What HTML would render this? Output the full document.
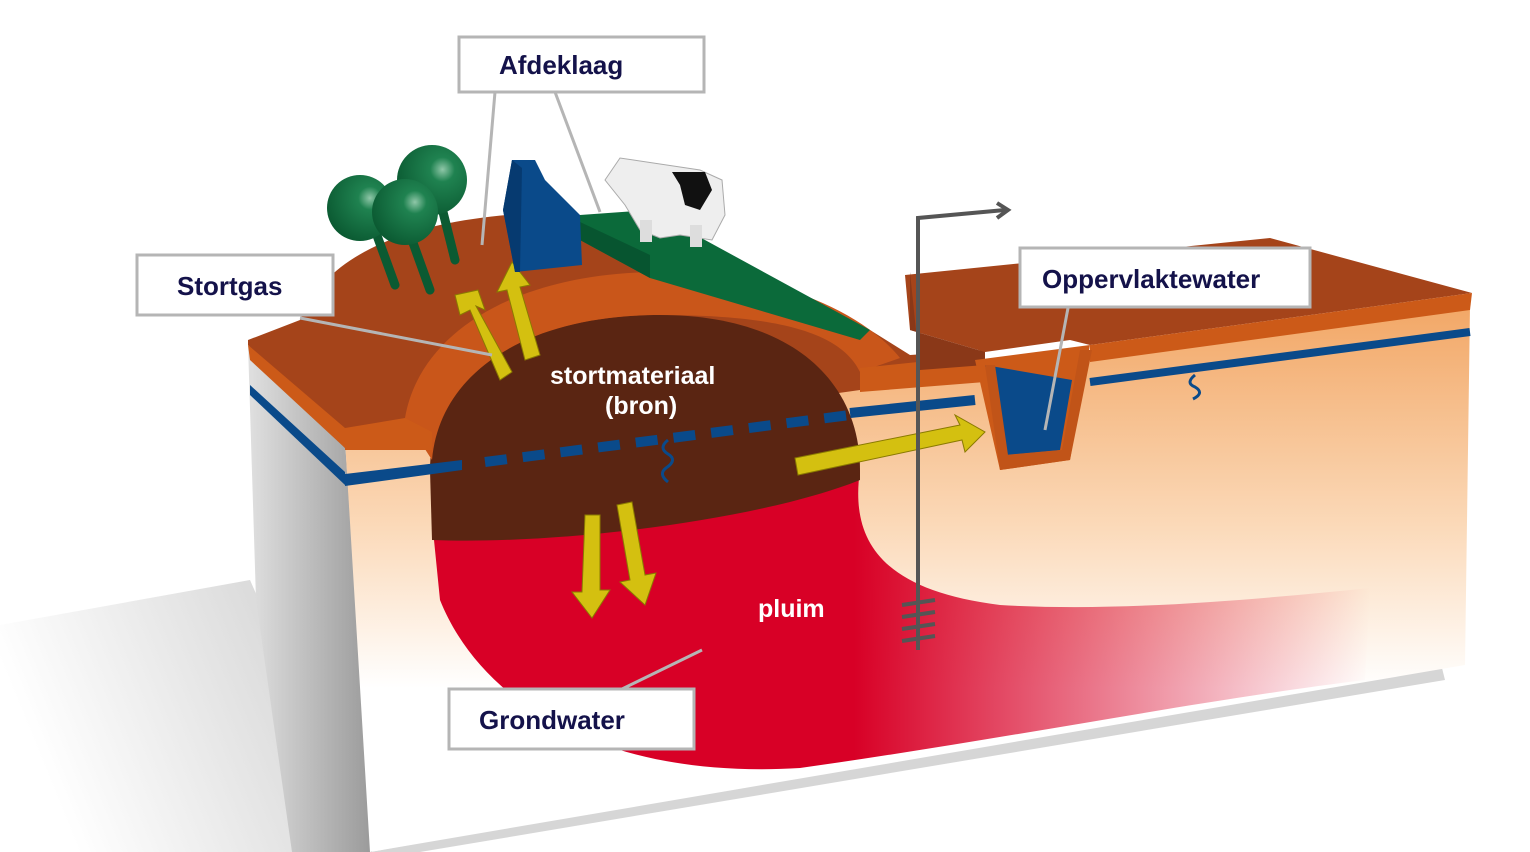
<!DOCTYPE html>
<html><head><meta charset="utf-8"><style>
html,body{margin:0;padding:0;background:#fff;width:1530px;height:852px;overflow:hidden}
svg text{font-family:"Liberation Sans",sans-serif;font-weight:bold}
</style></head><body>
<svg width="1530" height="852" viewBox="0 0 1530 852" xmlns="http://www.w3.org/2000/svg">
<defs>
<linearGradient id="front" x1="0" y1="0" x2="0" y2="1">
<stop offset="0" stop-color="#f2a766"/><stop offset="0.4" stop-color="#fbd9b8"/><stop offset="0.7" stop-color="#ffffff"/></linearGradient>
<linearGradient id="shadow" x1="1" y1="0" x2="0" y2="0.3">
<stop offset="0" stop-color="#999"/><stop offset="1" stop-color="#fff"/></linearGradient>
<linearGradient id="side" x1="0" y1="0" x2="1" y2="0">
<stop offset="0" stop-color="#e0e0e0"/><stop offset="1" stop-color="#9a9a9a"/></linearGradient>
<linearGradient id="plume" x1="0" y1="0" x2="1" y2="0">
<stop offset="0" stop-color="#d80026"/><stop offset="0.45" stop-color="#d80026"/><stop offset="1" stop-color="#d80026" stop-opacity="0"/></linearGradient>
<radialGradient id="tree" cx="0.65" cy="0.35" r="0.7"><stop offset="0" stop-color="#8fc7a8"/><stop offset="0.25" stop-color="#1f8250"/><stop offset="1" stop-color="#0b5a32"/></radialGradient>
</defs>
<polygon points="0,625 250,580 370,852 0,852" fill="url(#shadow)" opacity="0.5"/>
<polygon points="370,852 1440,660 1445,680 420,852" fill="#999" opacity="0.4"/>
<polygon points="248,345 345,440 372,852 292,852 256,600" fill="url(#side)"/>
<polygon points="345,440 430,430 985,375 1090,358 1470,306 1465,665 370,852" fill="url(#front)"/>
<path d="M432,520 L860,470 C850,540 880,590 1000,605 C1120,612 1250,600 1370,588 L1365,680 C1200,700 1000,740 800,768 C600,780 480,700 440,600 Z" fill="url(#plume)"/>
<path d="M248,340 L300,320 C330,245 430,215 560,212 L650,230 L870,330 L910,355 L985,350 L985,378 L860,390 L432,450 L345,448 L248,345 Z" fill="#a5441a"/>
<path d="M430,470 C430,370 530,315 660,315 C790,315 860,380 860,470 L860,480 C760,520 560,545 432,540 Z" fill="#5a2512"/>
<path d="M405,418 C420,330 520,272 660,272 C790,272 870,320 900,358 L860,372 C840,330 770,315 660,315 C530,315 440,370 432,460 Z" fill="#c9561a"/>
<path d="M860,368 L985,355 L985,382 L860,392 Z" fill="#cc5a18"/>
<polygon points="248,345 345,428 345,448 250,360" fill="#cc5a18"/>
<polygon points="345,428 405,418 432,432 432,450 345,450" fill="#cc5a18"/>
<polygon points="580,215 650,210 870,330 860,340 650,278 580,240" fill="#0b6a3a"/>
<polygon points="580,222 650,255 650,278 580,240" fill="#075530"/>
<polygon points="250,385 345,472 345,485 250,395" fill="#0a4a8a"/>
<polygon points="345,474 462,460 462,470 345,486" fill="#0a4a8a"/>
<line x1="485" y1="462" x2="850" y2="415" stroke="#0a4a8a" stroke-width="10" stroke-dasharray="22,16"/>
<line x1="850" y1="413" x2="975" y2="400" stroke="#0a4a8a" stroke-width="10"/>
<line x1="1090" y1="382" x2="1470" y2="332" stroke="#0a4a8a" stroke-width="8"/>
<path d="M668,440 q-10,8 0,14 q10,6 -2,14 q-8,6 2,14" stroke="#0a4a8a" stroke-width="3" fill="none"/>
<path d="M1195,375 q-10,8 0,12 q10,6 -2,12" stroke="#0a4a8a" stroke-width="3" fill="none"/>
<polygon points="905,275 1270,238 1472,293 1090,345 1070,340 985,352 910,330" fill="#a5441a"/>
<polygon points="910,272 920,370 985,365 985,352 910,330" fill="#8a3818"/>
<polygon points="1090,345 1472,293 1470,310 1090,362" fill="#cc5a18"/>
<polygon points="975,360 1090,345 1070,460 1000,470" fill="#cc5a18"/>
<polygon points="985,365 1072,380 1060,450 1005,455" fill="#0a4a8a"/>
<polygon points="985,365 1000,470 1070,460 1092,350 1080,350 1062,450 1008,455 995,365" fill="#c15418"/>
<g fill="#d4c010" stroke="#8a7a00" stroke-width="1">
<polygon points="500,380 470,310 460,315 455,295 478,290 485,310 476,306 512,372"/>
<polygon points="525,360 507,290 497,292 512,262 530,285 520,287 540,355"/>
<polygon points="795,458 960,425 955,415 985,432 965,452 962,440 798,475"/>
<polygon points="585,515 600,515 600,590 610,590 592,618 572,592 582,592"/>
<polygon points="617,505 632,502 645,575 656,573 645,605 620,582 630,580"/>
</g>
<g stroke="#0b5a32" stroke-width="9" stroke-linecap="round">
<line x1="375" y1="230" x2="395" y2="285"/><line x1="412" y1="240" x2="430" y2="290"/><line x1="440" y1="200" x2="455" y2="260"/></g>
<circle cx="360" cy="208" r="33" fill="url(#tree)"/>
<circle cx="432" cy="180" r="35" fill="url(#tree)"/>
<circle cx="405" cy="212" r="33" fill="url(#tree)"/>
<polygon points="512,160 535,160 545,180 580,215 582,265 515,272 503,210" fill="#0a4a8a"/>
<polygon points="512,160 522,168 520,272 515,272 503,210" fill="#063a70"/>
<polygon points="605,180 620,158 700,170 722,180 725,215 712,240 680,235 660,238 640,230 625,205" fill="#eee" stroke="#aaa"/>
<path d="M672,172 L705,172 L712,190 L700,210 L685,205 L680,185 Z" fill="#111"/>
<rect x="640" y="220" width="12" height="22" fill="#ddd"/><rect x="690" y="225" width="12" height="22" fill="#ddd"/>
<polyline points="918,650 918,218 1005,210" fill="none" stroke="#555" stroke-width="4"/>
<polyline points="997,203 1008,210 997,218" fill="none" stroke="#555" stroke-width="4"/>
<g stroke="#555" stroke-width="4"><line x1="902" y1="605" x2="935" y2="600"/><line x1="902" y1="617" x2="935" y2="612"/><line x1="902" y1="629" x2="935" y2="624"/><line x1="902" y1="641" x2="935" y2="636"/></g>
<g stroke="#b5b5b5" stroke-width="3">
<line x1="495" y1="92" x2="482" y2="245"/><line x1="555" y1="92" x2="600" y2="212"/>
<line x1="300" y1="318" x2="492" y2="355"/>
<line x1="1068" y1="308" x2="1045" y2="430"/>
<line x1="620" y1="690" x2="702" y2="650"/></g>
<g fill="#fff" stroke="#b5b5b5" stroke-width="3">
<rect x="459" y="37" width="245" height="55"/>
<rect x="137" y="255" width="196" height="60"/>
<rect x="1020" y="248" width="290" height="59"/>
<rect x="449" y="689" width="245" height="60"/></g>
<g fill="#14124a" font-size="26">
<text x="499" y="74">Afdeklaag</text>
<text x="177" y="295">Stortgas</text>
<text x="1042" y="288">Oppervlaktewater</text>
<text x="479" y="729">Grondwater</text></g>
<g fill="#fff" font-size="25">
<text x="550" y="384">stortmateriaal</text>
<text x="605" y="414">(bron)</text>
<text x="758" y="617">pluim</text></g>
</svg>
</body></html>
